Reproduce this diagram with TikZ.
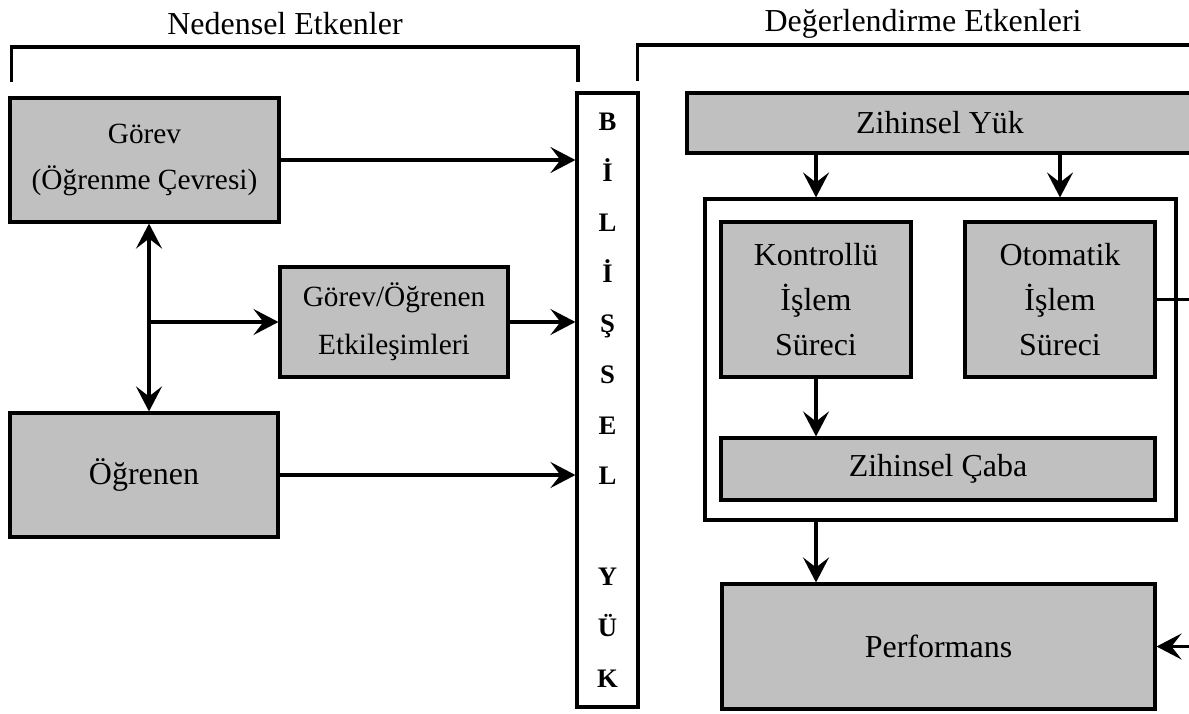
\documentclass[tikz,border=0pt]{standalone}
\usepackage{fontspec}
\setmainfont{Liberation Serif}
\usepackage{tikz}
\usetikzlibrary{positioning, calc, arrows.meta}
\definecolor{boxgray}{RGB}{192,192,192}
\tikzstyle{arrow}=[line width=1.8pt, draw=black, -{Stealth[length=5mm, width=5.2mm, inset=2mm]}]
\tikzstyle{line}=[line width=1.8pt, draw=black]
\tikzstyle{component}=[rectangle, draw, fill=boxgray, line width=1.8pt, inner sep=0pt, align=center, font=\fontsize{18.2}{25.6}\selectfont]
\tikzstyle{small component}=[component, font=\fontsize{16.7}{26.5}\selectfont]
\tikzstyle{header}=[font=\fontsize{18.2}{22}\selectfont]

\begin{document}
\begin{tikzpicture}[x=0.02cm, y=-0.02cm]
        \path[use as bounding box, clip] (0,0) rectangle (1189,713);

        % Headers
        \node[header] (nedensel) at (285,24) {Nedensel Etkenler};
        \node[header] (degerlendirme) at (923,24) {Değerlendirme Etkenleri};
        \draw[line] (11.5,82) |- (578,47) -- (578,82);
        \draw[line] (637.5,81) |- (1200,45);

        % Draw the blocks
        \node[small component, minimum width=5.38cm, minimum height=2.48cm](gorev) at (144.5,160) {Görev\\(Öğrenme Çevresi)};
        \node[small component, minimum width=4.56cm, minimum height=2.2cm, font=\fontsize{16.7}{27.3}\selectfont](etkilesim) at (394,322) {Görev/Öğrenen\\Etkileşimleri};
        \node[component, minimum width=5.36cm, minimum height=2.48cm](ogrenen) at (144,475) {Öğrenen};
        \node[component, fill=white, minimum width=1.22cm, minimum height=12.28cm, font=\fontsize{15.2}{28.8}\selectfont\bfseries](bilissel yuk) at (607.5,400)
            {B\\İ\\L\\İ\\Ş\\S\\E\\L\\[28.8pt]Y\\Ü\\K};

        \coordinate (kavsak) at (149,322);
        \draw[arrow] (gorev.east) -- (gorev.east -| bilissel yuk.west);
        \draw[arrow] (etkilesim.east) -- (etkilesim.east -| bilissel yuk.west);
        \draw[arrow] (ogrenen.east) -- (ogrenen.east -| bilissel yuk.west);
        \draw[arrow] (kavsak) -- (kavsak |- gorev.south);
        \draw[arrow] (kavsak) -- (kavsak |- ogrenen.north);
        \draw[arrow] (kavsak) -- (etkilesim.west);

        \node[component, minimum width=10.12cm, minimum height=1.2cm](zihinsel yuk) at (940,123) {Zihinsel Yük};
        \node[component, fill=white, minimum width=9.42cm, minimum height=6.42cm](islem) at (940.5,359.5) {};
        \node[component, minimum width=3.8cm, minimum height=3.1cm](kontrollu) at (816,299.5) {Kontrollü\\İşlem\\Süreci};
        \node[component, minimum width=3.8cm, minimum height=3.1cm](otomatik) at (1060,299.5) {Otomatik\\İşlem\\Süreci};
        \node[component, minimum width=8.68cm, minimum height=1.24cm](zihinsel caba) at (938,469) {Zihinsel Çaba};
        \node[component, minimum width=8.66cm, minimum height=2.5cm](performans) at (938.5,646.5) {Performans};

        \coordinate (sag kenar) at (1200,0);
        \draw[arrow] (kontrollu.north |- zihinsel yuk.south) -- (kontrollu.north |- islem.north);
        \draw[arrow] (otomatik.north |- zihinsel yuk.south) -- (otomatik.north |- islem.north);
        \draw[arrow] (kontrollu.south) -- (kontrollu.south |- zihinsel caba.north);
        \draw[arrow] (kontrollu.south |- islem.south) -- (kontrollu.south |- performans.north);
        \draw[line] (otomatik.east) -- (otomatik.east -| sag kenar);
        \draw[arrow] (performans.east -| sag kenar) -- (performans.east);

    \end{tikzpicture}
\end{document}
